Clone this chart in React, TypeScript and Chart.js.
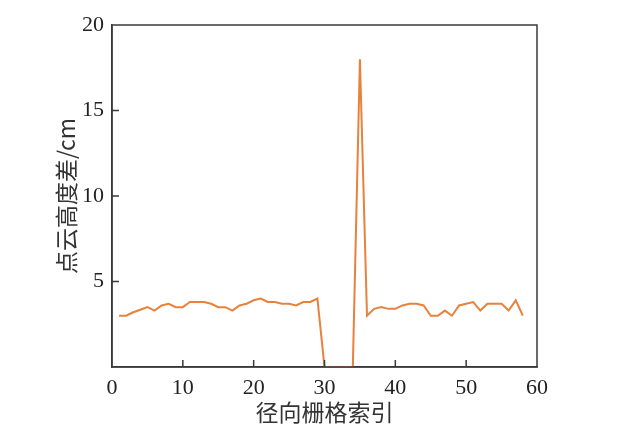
import React, { useEffect, useRef } from "react";
import { Chart, registerables } from "chart.js";

Chart.register(...registerables);

const gridIndex: number[] = [
  1, 2, 3, 4, 5, 6, 7, 8, 9, 10, 11, 12, 13, 14, 15, 16, 17, 18, 19, 20,
  21, 22, 23, 24, 25, 26, 27, 28, 29, 30, 31, 32, 33, 34, 35, 36, 37, 38, 39, 40,
  41, 42, 43, 44, 45, 46, 47, 48, 49, 50, 51, 52, 53, 54, 55, 56, 57, 58,
];

const heightDiff: number[] = [
  3.0, 3.0, 3.2, 3.35, 3.5, 3.3, 3.6, 3.7, 3.5, 3.5, 3.8, 3.8, 3.8, 3.7, 3.5, 3.5, 3.3, 3.6, 3.7, 3.9,
  4.0, 3.8, 3.8, 3.7, 3.7, 3.6, 3.8, 3.8, 4.0, 0, 0, 0, 0, 0, 18, 3.0, 3.4, 3.5, 3.4, 3.4,
  3.6, 3.7, 3.7, 3.6, 3.0, 3.0, 3.3, 3.0, 3.6, 3.7, 3.8, 3.3, 3.7, 3.7, 3.7, 3.3, 3.9, 3.0,
];

const xTitle = "径向栅格索引";
const yTitle = "点云高度差/cm";

const serif = '"Liberation Serif", "Times New Roman", "Noto Sans CJK SC", serif';
const cjk = '"Noto Sans CJK SC", sans-serif';
const axisColor = "#3a3a3a";

const frameAndTicks = {
  id: "frameAndTicks",
  afterDatasetsDraw(chart: any) {
    const { ctx, chartArea } = chart;
    const xs = chart.scales.x;
    const ys = chart.scales.y;
    ctx.save();
    ctx.strokeStyle = axisColor;
    ctx.lineWidth = 1.5;
    ctx.strokeRect(chartArea.left, chartArea.top, chartArea.right - chartArea.left, chartArea.bottom - chartArea.top);
    const len = 7;
    ctx.beginPath();
    xs.ticks.forEach((t: any) => {
      if (t.value <= xs.min || t.value >= xs.max) return;
      const px = xs.getPixelForValue(t.value);
      ctx.moveTo(px, chartArea.bottom);
      ctx.lineTo(px, chartArea.bottom - len);
    });
    ys.ticks.forEach((t: any) => {
      if (t.value <= ys.min || t.value >= ys.max) return;
      const py = ys.getPixelForValue(t.value);
      ctx.moveTo(chartArea.left, py);
      ctx.lineTo(chartArea.left + len, py);
    });
    ctx.stroke();
    ctx.restore();
  },
};

export default function App() {
  const ref = useRef<HTMLCanvasElement>(null);
  useEffect(() => {
    if (!ref.current) return;
    const chart = new Chart(ref.current, {
      type: "line",
      data: {
        datasets: [
          {
            data: gridIndex.map((x, i) => ({ x, y: heightDiff[i] })),
            borderColor: "#e7813c",
            borderWidth: 2,
            pointRadius: 0,
            tension: 0,
            fill: false,
          },
        ],
      },
      options: {
        responsive: false,
        animation: false,
        layout: { padding: { top: 25, right: 86, left: 0, bottom: 0 } },
        plugins: { legend: { display: false }, tooltip: { enabled: false } },
        scales: {
          x: {
            type: "linear",
            min: 0,
            max: 60,
            afterFit: (s: any) => {
              s.height = 74;
            },
            ticks: {
              stepSize: 10,
              color: "#222",
              font: { family: serif, size: 22 },
              padding: 8,
              maxRotation: 0,
            },
            grid: { display: true, drawOnChartArea: false, drawTicks: false },
            border: { display: true, color: axisColor, width: 1.5 },
            title: {
              display: true,
              text: xTitle,
              color: "#333",
              font: { family: cjk, size: 23 },
              padding: { top: 0, bottom: 15 },
            },
          },
          y: {
            min: 0,
            max: 20,
            afterFit: (s: any) => {
              s.width = 112;
            },
            ticks: {
              stepSize: 5,
              color: "#222",
              font: { family: serif, size: 22 },
              padding: 8,
              callback: (v: any) => (v === 0 ? "" : String(v)),
            },
            grid: { display: true, drawOnChartArea: false, drawTicks: false },
            border: { display: true, color: axisColor, width: 1.5 },
            title: {
              display: true,
              text: yTitle,
              color: "#333",
              font: { family: cjk, size: 23 },
              padding: { top: 52, bottom: 0 },
            },
          },
        },
      },
      plugins: [frameAndTicks],
    });
    return () => chart.destroy();
  }, []);
  return (
    <div style={{ position: "absolute", left: 0, top: 0, width: 623, height: 441, background: "#fff" }}>
      <canvas ref={ref} width={623} height={441} />
    </div>
  );
}
